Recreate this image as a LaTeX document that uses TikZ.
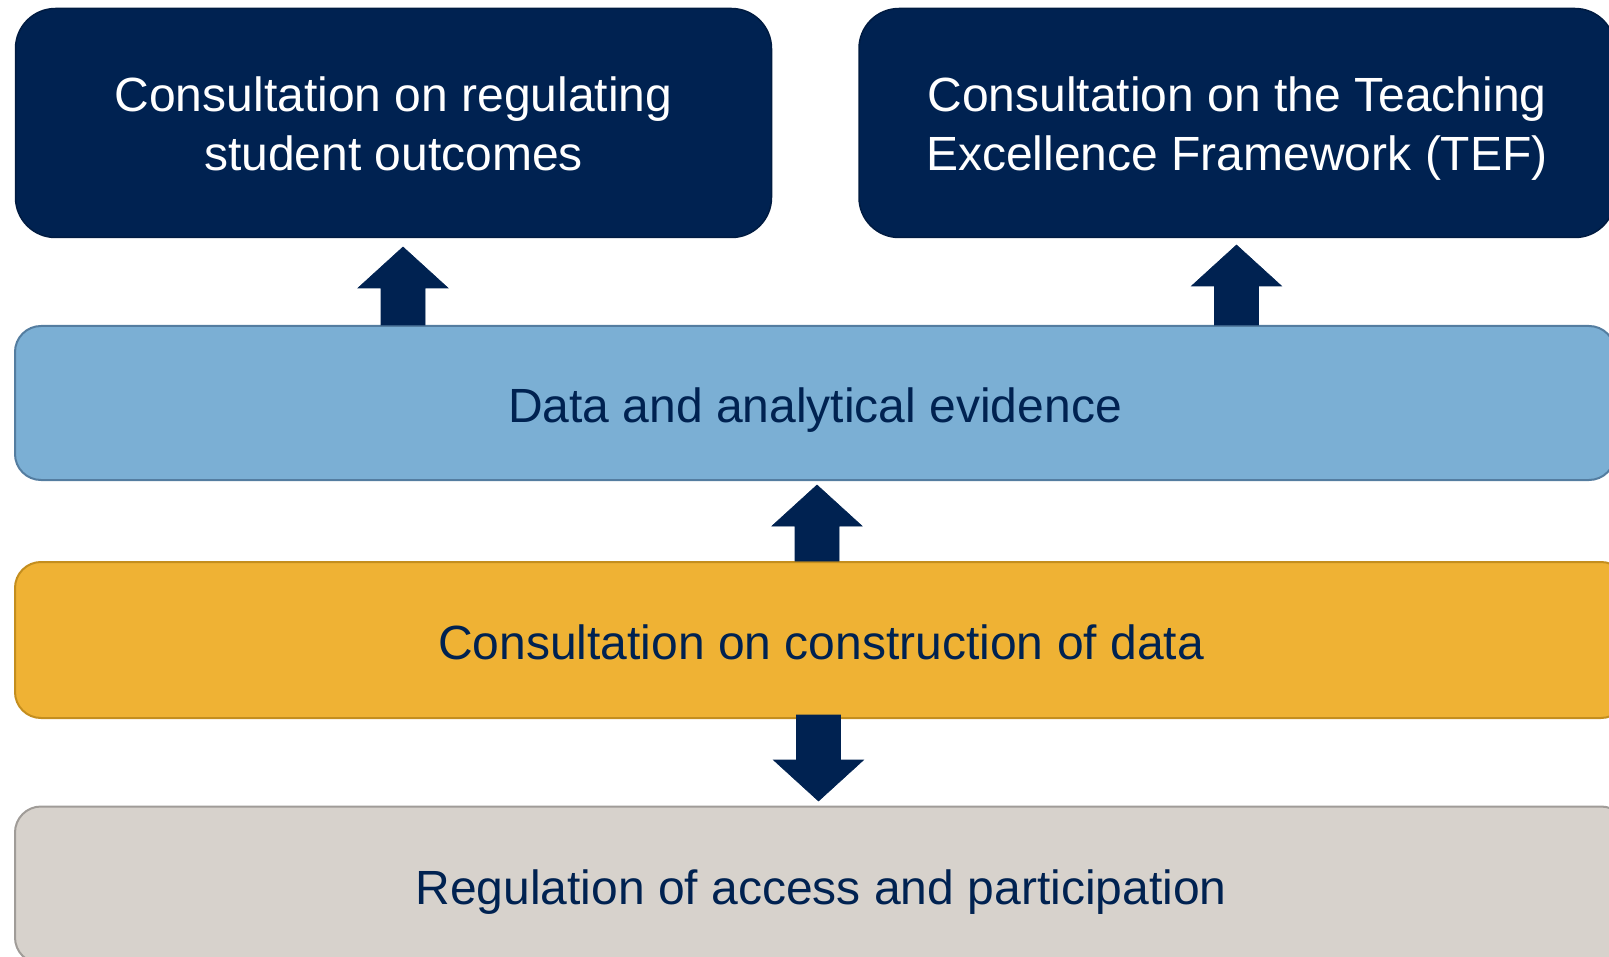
\documentclass[tikz,border=0pt]{standalone}
\usepackage{fontspec}
\setmainfont{Liberation Sans}
\usepackage{tikz}
\usetikzlibrary{calc}
\definecolor{ofsnavy}{RGB}{0,34,81}
\definecolor{evblue}{RGB}{123,175,212}
\definecolor{evblueline}{RGB}{84,125,160}
\definecolor{conorange}{RGB}{239,178,52}
\definecolor{conorangeline}{RGB}{196,142,30}
\definecolor{reggray}{RGB}{215,210,204}
\definecolor{reggrayline}{RGB}{160,156,152}
% block arrow from tail #1 to tip #2 (vertical)
\newcommand{\blockarrow}[2]{%
  \filldraw[ofsnavy,line width=0.6pt,line join=miter] let \p1=(#1), \p2=(#2), \n1={sign(\y2-\y1)} in
    (\x1-22pt,\y1) -- (\x1-22pt,\y2-\n1*41pt) -- (\x1-45pt,\y2-\n1*41pt) -- (\x1,\y2)
    -- (\x1+45pt,\y2-\n1*41pt) -- (\x1+22pt,\y2-\n1*41pt) -- (\x1+22pt,\y1) -- cycle;}

\begin{document}
\begin{tikzpicture}[line cap=round,line join=round,x=1pt,y=-1pt,
    every node/.style={font=\fontsize{48}{59}\selectfont,align=center,inner sep=0pt},
    topbox/.style={fill=ofsnavy,draw=ofsnavy!80!black,line width=1.5pt,rounded corners=40pt,
      minimum width=756pt,minimum height=229pt,text=white,text height=106pt,text depth=10pt},
    layerbox/.style={line width=2pt,rounded corners=26pt,minimum width=1600pt,text=ofsnavy,
      text height=48pt,text depth=10pt}]
  \useasboundingbox (0,0) rectangle (1609,957);
  \clip (0,0) rectangle (1609,957);
  % top row
  \node[topbox] (regout) at (393.5,123) {Consultation on regulating\\student outcomes};
  \node[topbox] (tef) at (1237,123) {Consultation on the Teaching\\Excellence Framework (TEF)};
  % layers
  \node[layerbox,fill=evblue,draw=evblueline,minimum height=154pt] (evid) at (815,403) {Data and analytical evidence};
  \node[layerbox,fill=conorange,draw=conorangeline,minimum height=156pt,minimum width=1612pt] (cons) at (821,640) {Consultation on construction of data};
  \node[layerbox,fill=reggray,draw=reggrayline,minimum height=157pt,minimum width=1612pt] (regacc) at (821,885) {Regulation of access and participation};
  % arrows
  \coordinate (tip1) at (403,247);
  \coordinate (tip2) at (1236.5,245);
  \coordinate (tip3) at (817,485);
  \coordinate (tip4) at (818.5,801);
  \blockarrow{tip1 |- evid.north}{tip1}
  \blockarrow{tip2 |- evid.north}{tip2}
  \blockarrow{tip3 |- cons.north}{tip3}
  \blockarrow{tip4 |- 0,715}{tip4}
\end{tikzpicture}
\end{document}
